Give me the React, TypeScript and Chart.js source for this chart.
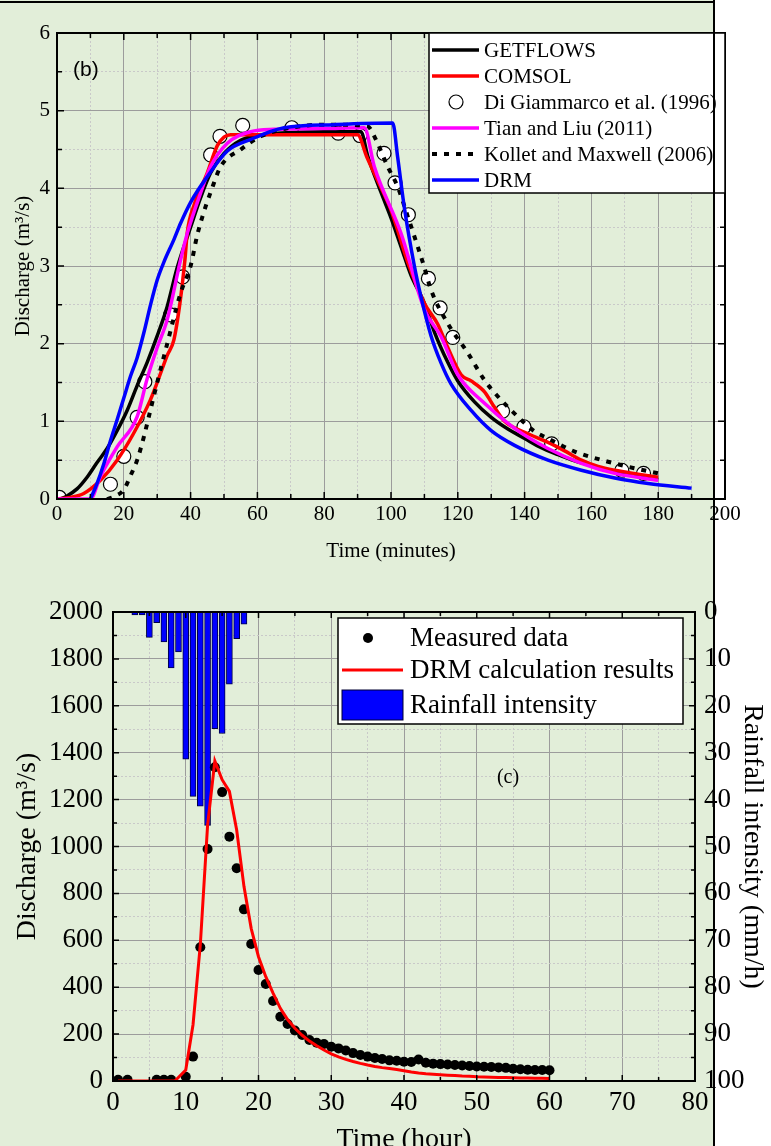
import React, { useEffect, useRef } from 'react';
import { Chart, registerables } from 'chart.js';

Chart.register(...registerables);

const SERIF = "'Liberation Serif', 'Times New Roman', Times, serif";
const SANS = "'Liberation Sans', Arial, sans-serif";

// ---------------- Figure (b): Discharge vs Time (minutes) ----------------
const getflowsT = [1, 3, 6, 9, 12, 15, 18, 21, 24, 27, 30, 33, 36, 40, 43, 46, 50, 55, 60, 70, 80, 91, 93, 97, 100, 103, 106, 110, 113, 117, 120, 125, 130, 135, 140, 145, 150, 155, 160, 165, 170, 175, 180];
const getflowsQ = [0, 0.04, 0.13, 0.28, 0.47, 0.65, 0.88, 1.14, 1.46, 1.76, 2.1, 2.48, 2.98, 3.5, 3.88, 4.2, 4.45, 4.62, 4.68, 4.72, 4.73, 4.73, 4.42, 3.95, 3.62, 3.25, 2.88, 2.52, 2.15, 1.76, 1.52, 1.25, 1.05, 0.9, 0.78, 0.66, 0.57, 0.49, 0.43, 0.37, 0.33, 0.29, 0.25];

const comsolT = [0, 4, 8, 13, 18, 23, 28, 30, 33, 35, 36.8, 38.3, 39, 41, 45, 48, 50, 52, 60, 70, 80, 90, 92.7, 96, 100, 105, 110, 114, 117, 121, 124, 128, 131, 134, 140, 147, 152, 157, 162, 167, 174, 180];
const comsolQ = [0, 0.02, 0.07, 0.24, 0.5, 0.85, 1.28, 1.5, 1.85, 2.05, 2.52, 3.08, 3.43, 3.78, 4.2, 4.55, 4.66, 4.69, 4.69, 4.69, 4.69, 4.69, 4.41, 4.1, 3.72, 3.05, 2.52, 2.25, 1.95, 1.6, 1.52, 1.38, 1.18, 1.0, 0.86, 0.73, 0.62, 0.5, 0.42, 0.37, 0.32, 0.28];

const diGiamT = [0.7, 16, 20, 24, 26.3, 34, 37.6, 46, 48.8, 55.6, 70.3, 84.2, 90.7, 97.9, 101.2, 105.2, 111.2, 114.7, 118.5, 133.4, 139.8, 148.1, 169.1, 175.6];
const diGiamQ = [0.02, 0.19, 0.55, 1.05, 1.51, 2.37, 2.86, 4.43, 4.67, 4.81, 4.78, 4.71, 4.68, 4.45, 4.07, 3.66, 2.84, 2.46, 2.08, 1.13, 0.93, 0.71, 0.37, 0.33];

const tianT = [0, 10, 13, 18, 24, 27, 30, 33, 37, 39, 43, 46, 51, 58, 65, 80, 92, 95, 103, 110, 115, 120, 127, 137, 147, 157, 167, 180];
const tianQ = [0, 0, 0.29, 0.67, 1.06, 1.55, 1.95, 2.31, 3.08, 3.42, 3.94, 4.28, 4.58, 4.73, 4.76, 4.77, 4.78, 4.28, 3.42, 2.44, 2.09, 1.6, 1.27, 0.91, 0.65, 0.46, 0.33, 0.24];

const kolletT = [15, 17, 20, 22, 24, 26, 28, 30, 33, 37, 40, 42, 44, 46, 49, 55, 61, 73, 83, 93, 95, 99, 102, 105, 108, 110, 112, 117, 123, 128, 132, 137, 143, 147, 155, 165, 172.5, 180];
const kolletQ = [0, 0.03, 0.12, 0.3, 0.5, 0.8, 1.15, 1.5, 2.0, 2.65, 3.0, 3.4, 3.7, 3.95, 4.28, 4.5, 4.67, 4.8, 4.82, 4.8, 4.67, 4.28, 4.02, 3.64, 3.25, 2.98, 2.69, 2.26, 1.88, 1.53, 1.32, 1.1, 0.87, 0.78, 0.61, 0.48, 0.4, 0.33];

const drmBT = [10, 12, 14, 16, 18, 20, 22, 24, 26, 28, 30, 32, 35, 37, 40, 45, 51, 58, 68, 83, 100.5, 102, 104, 107, 109, 112, 115, 118, 124, 130, 137, 147, 157, 167, 177, 190];
const drmBQ = [0, 0.2, 0.45, 0.75, 1.02, 1.3, 1.58, 1.82, 2.14, 2.5, 2.82, 3.05, 3.34, 3.55, 3.82, 4.15, 4.48, 4.63, 4.78, 4.82, 4.84, 4.4, 3.75, 3.0, 2.6, 2.1, 1.75, 1.48, 1.14, 0.88, 0.69, 0.5, 0.37, 0.27, 0.2, 0.14];

const bLegendLabels = ['GETFLOWS', 'COMSOL', 'Di Giammarco et al. (1996)', 'Tian and Liu (2011)', 'Kollet and Maxwell (2006)', 'DRM'];

// ---------------- Figure (c): Discharge vs Time (hour) ----------------
const measuredH = [0.7, 2, 6, 7, 8, 10, 11, 12, 13, 14, 15, 16, 17, 18, 19, 20, 21, 22, 23, 24, 25, 26, 27, 28, 29, 30, 31, 32, 33, 34, 35, 36, 37, 38, 39, 40, 41, 42, 43, 44, 45, 46, 47, 48, 49, 50, 51, 52, 53, 54, 55, 56, 57, 58, 59, 60];
const measuredQ = [5, 5, 5, 5, 5, 18, 104, 570, 989, 1338, 1232, 1042, 907, 732, 584, 473, 414, 341, 274, 243, 215, 196, 175, 163, 158, 146, 139, 130, 119, 111, 104, 98, 94, 88, 86, 82, 81, 92, 78, 74, 72, 70, 68, 66, 64, 62, 61, 60, 58, 56, 52, 50, 48, 47, 47, 46];

const drmCH = [0.7, 8.5, 10, 11, 12, 13, 14, 15, 16, 17, 18, 19, 20, 21, 22, 23, 24, 25, 26, 27, 28, 29, 30, 31, 32, 33, 34, 35, 36, 37, 38, 39, 40, 41, 42, 43, 44, 45, 46, 47, 48, 49, 50, 51, 52, 53, 54, 55, 56, 57, 58, 59, 60];
const drmCQ = [0, 0, 47, 240, 580, 1090, 1365, 1285, 1235, 1070, 830, 650, 530, 445, 375, 310, 262, 225, 195, 170, 150, 132, 116, 103, 92, 83, 75, 68, 62, 57, 53, 49, 44, 38, 34, 31, 29, 27, 25, 23, 21, 20, 18, 17, 16, 15, 14.5, 14, 13, 12.5, 12, 11.5, 11];

const rainH = [3, 4, 5, 6, 7, 8, 9, 10, 11, 12, 13, 14, 15, 16, 17, 18];
const rainI = [0.6, 0.6, 5.4, 2.3, 6.4, 11.9, 8.5, 31.4, 39.3, 41.4, 45.5, 24.9, 25.9, 15.4, 5.7, 2.6];

const cLegendLabels = ['Measured data', 'DRM calculation results', 'Rainfall intensity'];

// ---------------- helpers ----------------
const pts = (xs: number[], ys: number[]) => xs.map((x, i) => ({ x, y: ys[i] }));
const isMult = (v: number, m: number) => Math.abs(v / m - Math.round(v / m)) < 1e-6;

function gridOpts(major: number) {
  return {
    drawTicks: false,
    lineWidth: 1,
    color: (c: any) => (c.tick && isMult(c.tick.value, major) ? '#9c9c9c' : '#c9c9c9'),
  };
}
function borderOpts(major: number) {
  return {
    display: false,
    dash: (c: any) => (c.tick && !isMult(c.tick.value, major) ? [2, 2] : []),
  };
}

function framePlugin(xMajor: number, yMajor: number, majorLen: number, minorLen: number) {
  return {
    id: 'frameTicks',
    afterDatasetsDraw(chart: any) {
      const { ctx, chartArea: a } = chart;
      const xs = chart.scales.x;
      const ys = chart.scales.y;
      ctx.save();
      ctx.strokeStyle = '#000';
      ctx.lineWidth = 1.5;
      ctx.beginPath();
      xs.ticks.forEach((t: any) => {
        const p = xs.getPixelForValue(t.value);
        const L = isMult(t.value, xMajor) ? majorLen : minorLen;
        ctx.moveTo(p, a.bottom);
        ctx.lineTo(p, a.bottom - L);
        ctx.moveTo(p, a.top);
        ctx.lineTo(p, a.top + L);
      });
      ys.ticks.forEach((t: any) => {
        const p = ys.getPixelForValue(t.value);
        const L = isMult(t.value, yMajor) ? majorLen : minorLen;
        ctx.moveTo(a.left, p);
        ctx.lineTo(a.left + L, p);
        ctx.moveTo(a.right, p);
        ctx.lineTo(a.right - L, p);
      });
      ctx.stroke();
      ctx.lineWidth = 2;
      ctx.strokeRect(a.left, a.top, a.right - a.left, a.bottom - a.top);
      ctx.restore();
    },
  };
}

const legendB = {
  id: 'legendB',
  afterDraw(chart: any) {
    const { ctx, chartArea: a } = chart;
    const bw = 296;
    const bh = 160;
    const bx = a.right - bw;
    const by = a.top;
    ctx.save();
    ctx.fillStyle = '#fff';
    ctx.fillRect(bx, by, bw, bh);
    ctx.strokeStyle = '#000';
    ctx.lineWidth = 1.5;
    ctx.strokeRect(bx, by, bw, bh);
    chart.data.datasets.forEach((ds: any, i: number) => {
      const y = by + 17 + i * 26;
      if (ds.showLine === false) {
        ctx.beginPath();
        ctx.arc(bx + 27, y, 7, 0, Math.PI * 2);
        ctx.fillStyle = '#fff';
        ctx.fill();
        ctx.lineWidth = 1.2;
        ctx.strokeStyle = '#000';
        ctx.stroke();
      } else {
        ctx.beginPath();
        ctx.setLineDash(ds.borderDash || []);
        ctx.lineWidth = ds.borderWidth;
        ctx.strokeStyle = ds.borderColor;
        ctx.moveTo(bx + 3, y);
        ctx.lineTo(bx + 50, y);
        ctx.stroke();
        ctx.setLineDash([]);
      }
      ctx.fillStyle = '#000';
      ctx.font = `21px ${SERIF}`;
      ctx.textAlign = 'left';
      ctx.textBaseline = 'middle';
      ctx.fillText(bLegendLabels[i], bx + 55, y + 1);
    });
    // panel label
    const xs = chart.scales.x;
    const ys = chart.scales.y;
    ctx.font = `21px ${SANS}`;
    ctx.fillStyle = '#000';
    ctx.textAlign = 'left';
    ctx.textBaseline = 'middle';
    ctx.fillText('(b)', xs.getPixelForValue(4.8), ys.getPixelForValue(5.52));
    ctx.restore();
  },
};

const legendC = {
  id: 'legendC',
  afterDraw(chart: any) {
    const { ctx, chartArea: a } = chart;
    const bw = 345;
    const bh = 106;
    const bx = a.right - 12 - bw;
    const by = a.top + 6;
    ctx.save();
    ctx.fillStyle = '#fff';
    ctx.fillRect(bx, by, bw, bh);
    ctx.strokeStyle = '#000';
    ctx.lineWidth = 1.5;
    ctx.strokeRect(bx, by, bw, bh);
    // measured dot
    ctx.beginPath();
    ctx.arc(bx + 30, by + 20, 5, 0, Math.PI * 2);
    ctx.fillStyle = '#000';
    ctx.fill();
    // red line
    ctx.beginPath();
    ctx.strokeStyle = '#ff0000';
    ctx.lineWidth = 3;
    ctx.moveTo(bx + 4, by + 52);
    ctx.lineTo(bx + 65, by + 52);
    ctx.stroke();
    // blue rect
    ctx.fillStyle = '#0000ff';
    ctx.fillRect(bx + 4, by + 72, 61, 30);
    ctx.strokeStyle = '#000033';
    ctx.lineWidth = 1;
    ctx.strokeRect(bx + 4, by + 72, 61, 30);
    ctx.fillStyle = '#000';
    ctx.font = `27px ${SERIF}`;
    ctx.textAlign = 'left';
    ctx.textBaseline = 'middle';
    const rows = [20, 52, 87];
    cLegendLabels.forEach((t, i) => ctx.fillText(t, bx + 72, by + rows[i] + 1));
    // panel label
    const xs = chart.scales.x;
    const ys = chart.scales.y;
    ctx.font = `20px ${SERIF}`;
    ctx.textAlign = 'center';
    ctx.fillText('(c)', xs.getPixelForValue(54.3), ys.getPixelForValue(1295));
    ctx.restore();
  },
};

function configB(): any {
  const lineDs = (xs: number[], ys: number[], color: string, order: number, extra: any = {}) => ({
    data: pts(xs, ys),
    borderColor: color,
    backgroundColor: color,
    borderWidth: 3.5,
    pointRadius: 0,
    cubicInterpolationMode: 'monotone',
    order,
    ...extra,
  });
  return {
    type: 'line',
    data: {
      datasets: [
        lineDs(getflowsT, getflowsQ, '#000000', 5),
        lineDs(comsolT, comsolQ, '#ff0000', 4),
        {
          data: pts(diGiamT, diGiamQ),
          showLine: false,
          pointRadius: 7,
          pointBackgroundColor: '#ffffff',
          pointBorderColor: '#000000',
          pointBorderWidth: 1.2,
          borderColor: '#000000',
          backgroundColor: '#ffffff',
          order: 6,
        },
        lineDs(tianT, tianQ, '#ff00ff', 3),
        lineDs(kolletT, kolletQ, '#000000', 2, { borderDash: [5, 7], borderWidth: 4 }),
        lineDs(drmBT, drmBQ, '#0000ff', 1),
      ],
    },
    options: {
      responsive: false,
      animation: false,
      events: [],
      layout: { padding: { top: 33, right: 46, left: 0, bottom: 0 } },
      plugins: { legend: { display: false }, tooltip: { enabled: false } },
      scales: {
        x: {
          type: 'linear',
          min: 0,
          max: 200,
          grid: gridOpts(20),
          border: borderOpts(20),
          ticks: {
            stepSize: 10,
            autoSkip: false,
            maxRotation: 0,
            padding: 3,
            color: '#000',
            font: { family: SERIF, size: 21 },
            callback: (v: any) => (isMult(v, 20) ? String(v) : ''),
          },
          title: {
            display: true,
            text: 'Time (minutes)',
            color: '#000',
            font: { family: SERIF, size: 21 },
            padding: { top: 0, bottom: 6 },
          },
          afterFit: (s: any) => {
            s.height = 71;
          },
        },
        y: {
          type: 'linear',
          min: 0,
          max: 6,
          grid: gridOpts(1),
          border: borderOpts(1),
          ticks: {
            stepSize: 0.5,
            autoSkip: false,
            padding: 7,
            color: '#000',
            font: { family: SERIF, size: 21 },
            callback: (v: any) => (isMult(v, 1) ? String(v) : ''),
          },
          title: {
            display: true,
            text: 'Discharge (m³/s)',
            color: '#000',
            font: { family: SERIF, size: 21 },
            padding: { top: 11, bottom: 0 },
          },
          afterFit: (s: any) => {
            s.width = 57;
          },
        },
      },
    },
    plugins: [framePlugin(20, 1, 7, 5), legendB],
  };
}

function configC(): any {
  return {
    type: 'line',
    data: {
      datasets: [
        {
          label: 'Measured data',
          data: pts(measuredH, measuredQ),
          showLine: false,
          pointRadius: 5,
          pointBackgroundColor: '#000',
          pointBorderColor: '#000',
          pointBorderWidth: 0,
          borderColor: '#000',
          backgroundColor: '#000',
          order: 2,
        },
        {
          label: 'DRM calculation results',
          data: pts(drmCH, drmCQ),
          borderColor: '#ff0000',
          backgroundColor: '#ff0000',
          borderWidth: 3,
          pointRadius: 0,
          tension: 0,
          order: 1,
        },
        {
          type: 'bar',
          label: 'Rainfall intensity',
          data: pts(rainH, rainI),
          yAxisID: 'y2',
          backgroundColor: '#0000ff',
          borderColor: '#000044',
          borderWidth: 1,
          barThickness: 6,
          order: 3,
        },
      ],
    },
    options: {
      responsive: false,
      animation: false,
      events: [],
      layout: { padding: { top: 42, right: 0, left: 0, bottom: 0 } },
      plugins: { legend: { display: false }, tooltip: { enabled: false } },
      scales: {
        x: {
          type: 'linear',
          min: 0,
          max: 80,
          offset: false,
          grid: { ...gridOpts(10), offset: false },
          border: borderOpts(10),
          ticks: {
            stepSize: 5,
            autoSkip: false,
            maxRotation: 0,
            padding: 6,
            color: '#000',
            font: { family: SERIF, size: 27 },
            callback: (v: any) => (isMult(v, 10) ? String(v) : ''),
          },
          title: {
            display: true,
            text: 'Time (hour)',
            color: '#000',
            font: { family: SERIF, size: 28 },
            padding: { top: 0, bottom: 4 },
          },
          afterFit: (s: any) => {
            s.height = 79;
          },
        },
        y: {
          type: 'linear',
          position: 'left',
          min: 0,
          max: 2000,
          grid: gridOpts(200),
          border: borderOpts(200),
          ticks: {
            stepSize: 100,
            autoSkip: false,
            padding: 10,
            color: '#000',
            font: { family: SERIF, size: 27 },
            callback: (v: any) => (isMult(v, 200) ? String(v) : ''),
          },
          title: {
            display: true,
            text: 'Discharge (m³/s)',
            color: '#000',
            font: { family: SERIF, size: 28 },
            padding: { top: 11, bottom: 0 },
          },
          afterFit: (s: any) => {
            s.width = 113;
          },
        },
        y2: {
          type: 'linear',
          position: 'right',
          reverse: true,
          min: 0,
          max: 100,
          grid: { drawOnChartArea: false, drawTicks: false },
          border: { display: false },
          ticks: {
            stepSize: 5,
            autoSkip: false,
            padding: 9,
            color: '#000',
            font: { family: SERIF, size: 27 },
            callback: (v: any) => (isMult(v, 10) ? String(v) : ''),
          },
          title: {
            display: true,
            text: 'Rainfall intensity (mm/h)',
            color: '#000',
            font: { family: SERIF, size: 28, lineHeight: 1 },
            padding: { top: 5, bottom: 0 },
          },
          afterFit: (s: any) => {
            s.width = 76;
          },
        },
      },
    },
    plugins: [framePlugin(10, 200, 6, 4), legendC],
  };
}

export default function App() {
  const topRef = useRef<HTMLCanvasElement>(null);
  const botRef = useRef<HTMLCanvasElement>(null);

  useEffect(() => {
    const c1 = new Chart(topRef.current as HTMLCanvasElement, configB());
    const c2 = new Chart(botRef.current as HTMLCanvasElement, configC());
    return () => {
      c1.destroy();
      c2.destroy();
    };
  }, []);

  return (
    <div
      style={{
        position: 'absolute',
        left: 0,
        top: 0,
        width: 771,
        height: 1146,
        overflow: 'hidden',
        background: '#ffffff',
      }}
    >
      <div style={{ position: 'absolute', left: 0, top: 0, width: 714, height: 1146, background: '#e2eed9' }} />
      <div style={{ position: 'absolute', left: 0, top: 1, width: 715, height: 2, background: '#000' }} />
      <canvas ref={topRef} width={771} height={570} style={{ position: 'absolute', left: 0, top: 0 }} />
      <canvas ref={botRef} width={771} height={590} style={{ position: 'absolute', left: 0, top: 570 }} />
      <div style={{ position: 'absolute', left: 713, top: 0, width: 2, height: 1146, background: '#000', zIndex: 5 }} />
    </div>
  );
}
